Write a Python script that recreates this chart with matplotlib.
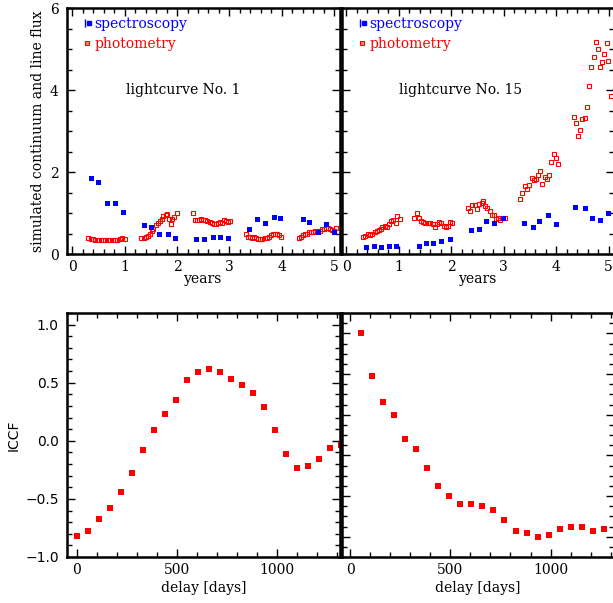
import numpy as np
import matplotlib
matplotlib.use('Agg')
import matplotlib.pyplot as plt
from matplotlib.ticker import MultipleLocator
from matplotlib.lines import Line2D
from matplotlib.legend_handler import HandlerTuple

plt.rcParams['font.family'] = ['DejaVu Serif']
plt.rcParams['font.size'] = 10
plt.rcParams['mathtext.default'] = 'regular'

# lightcurve No. 1
spec1_t = [0.36, 0.50, 0.67, 0.82, 0.97, 1.37, 1.50, 1.66, 1.83, 1.97, 2.36, 2.51, 2.68, 2.82, 2.98,
           3.38, 3.53, 3.68, 3.85, 3.97, 4.41, 4.52, 4.69, 4.85, 5.00]
spec1_f = [1.86, 1.76, 1.25, 1.25, 1.03, 0.71, 0.66, 0.49, 0.49, 0.40, 0.37, 0.37, 0.42, 0.42, 0.40,
           0.61, 0.86, 0.76, 0.91, 0.89, 0.86, 0.79, 0.54, 0.74, 0.54]
phot1_t = [0.30, 0.35, 0.40, 0.44, 0.49, 0.54, 0.58, 0.63, 0.68, 0.72, 0.77, 0.82, 0.86, 0.91, 0.95, 1.00,
           1.32, 1.36, 1.40, 1.44, 1.48, 1.52, 1.55, 1.59, 1.63, 1.67, 1.71, 1.74, 1.78, 1.81, 1.85, 1.88, 1.91, 1.95, 1.99,
           2.30, 2.34, 2.38, 2.42, 2.46, 2.50, 2.54, 2.58, 2.62, 2.66, 2.70, 2.74, 2.78, 2.82, 2.86, 2.90, 2.94, 2.98, 3.01,
           3.31, 3.35, 3.39, 3.43, 3.47, 3.51, 3.55, 3.59, 3.63, 3.67, 3.71, 3.75, 3.79, 3.83, 3.87, 3.91, 3.95, 3.99,
           4.32, 4.36, 4.40, 4.44, 4.48, 4.52, 4.56, 4.60, 4.64, 4.68, 4.72, 4.76, 4.80, 4.84, 4.88, 4.92, 4.96, 5.00, 5.04]
phot1_f = [0.38, 0.37, 0.36, 0.35, 0.34, 0.34, 0.35, 0.34, 0.35, 0.35, 0.33, 0.33, 0.34, 0.36, 0.40, 0.37,
           0.38, 0.40, 0.42, 0.44, 0.50, 0.56, 0.62, 0.70, 0.76, 0.80, 0.86, 0.92, 0.96, 0.97, 0.86, 0.72, 0.86, 0.90, 0.99,
           0.99, 0.84, 0.82, 0.83, 0.86, 0.84, 0.83, 0.80, 0.77, 0.75, 0.74, 0.73, 0.76, 0.78, 0.76, 0.83, 0.80, 0.77, 0.80,
           0.48, 0.42, 0.42, 0.40, 0.42, 0.38, 0.37, 0.36, 0.37, 0.39, 0.40, 0.42, 0.46, 0.49, 0.48, 0.48, 0.46, 0.41,
           0.38, 0.42, 0.46, 0.48, 0.50, 0.53, 0.54, 0.54, 0.55, 0.56, 0.57, 0.60, 0.62, 0.63, 0.64, 0.60, 0.58, 0.55, 0.63]

# lightcurve No. 15
spec15_t = [0.38, 0.52, 0.67, 0.82, 0.95, 1.38, 1.52, 1.65, 1.81, 1.97, 2.37, 2.52, 2.66, 2.82, 2.98,
            3.38, 3.55, 3.68, 3.85, 3.99, 4.36, 4.54, 4.69, 4.83, 4.99]
spec15_f = [0.18, 0.19, 0.18, 0.19, 0.19, 0.19, 0.28, 0.28, 0.32, 0.36, 0.58, 0.62, 0.80, 0.76, 0.89,
            0.76, 0.67, 0.81, 0.96, 0.74, 1.14, 1.11, 0.89, 0.84, 0.99]
phot15_t = [0.32, 0.36, 0.41, 0.45, 0.49, 0.54, 0.58, 0.62, 0.66, 0.69, 0.74, 0.78, 0.82, 0.85, 0.90, 0.94, 0.97, 1.02,
            1.30, 1.34, 1.38, 1.43, 1.47, 1.51, 1.56, 1.60, 1.65, 1.69, 1.73, 1.77, 1.81, 1.86, 1.90, 1.94, 1.98, 2.02,
            2.32, 2.35, 2.40, 2.45, 2.49, 2.53, 2.58, 2.61, 2.65, 2.69, 2.73, 2.77, 2.81, 2.86, 2.89, 2.93, 2.97, 3.03,
            3.31, 3.35, 3.40, 3.44, 3.48, 3.53, 3.57, 3.61, 3.65, 3.69, 3.73, 3.78, 3.82, 3.86, 3.90, 3.95, 3.99, 4.04,
            4.33, 4.37, 4.41, 4.45, 4.50, 4.54, 4.59, 4.62, 4.67, 4.71, 4.75, 4.79, 4.83, 4.87, 4.91, 4.96, 4.99, 5.04]
phot15_f = [0.42, 0.45, 0.48, 0.46, 0.50, 0.54, 0.55, 0.59, 0.62, 0.65, 0.68, 0.67, 0.73, 0.81, 0.83, 0.75, 0.93, 0.86,
            0.89, 0.99, 0.87, 0.80, 0.78, 0.76, 0.75, 0.76, 0.73, 0.67, 0.72, 0.78, 0.76, 0.68, 0.67, 0.68, 0.79, 0.75,
            1.11, 1.04, 1.20, 1.20, 1.10, 1.22, 1.24, 1.29, 1.17, 1.11, 1.04, 0.95, 0.95, 0.86, 0.87, 0.84, 0.89, 0.89,
            1.34, 1.50, 1.66, 1.59, 1.69, 1.86, 1.80, 1.83, 1.92, 2.03, 1.71, 1.89, 1.82, 1.93, 2.24, 2.44, 2.33, 2.19,
            3.33, 3.19, 2.88, 3.02, 3.29, 3.31, 3.59, 4.10, 4.55, 4.80, 5.16, 4.99, 4.57, 4.68, 4.88, 5.15, 4.71, 3.85]

# ICCF
delay1 = [0, 55, 110, 165, 220, 275, 330, 385, 440, 495, 550, 605, 660, 715, 770, 825, 880, 935, 990,
          1045, 1100, 1155, 1210, 1265, 1320]
iccf1 = [-0.82, -0.78, -0.67, -0.58, -0.44, -0.28, -0.08, 0.09, 0.23, 0.35, 0.52, 0.59, 0.62, 0.59, 0.53,
         0.48, 0.41, 0.29, 0.09, -0.11, -0.23, -0.22, -0.16, -0.06, -0.04]
delay15 = [55, 110, 165, 220, 275, 330, 385, 440, 495, 550, 605, 660, 715, 770, 825, 880, 935, 990,
           1045, 1100, 1155, 1210, 1265]
iccf15 = [1.00, 0.79, 0.66, 0.60, 0.48, 0.43, 0.34, 0.25, 0.20, 0.16, 0.16, 0.15, 0.13, 0.08, 0.03, 0.02,
          0.00, 0.01, 0.04, 0.05, 0.05, 0.03, 0.04]

W, H = 613, 603
fig = plt.figure(figsize=(W / 100, H / 100), dpi=100)


def box(l, r, t, b):
    return [l / W, (H - b) / H, (r - l) / W, (b - t) / H]


def style(ax, xmaj, xmin, ymaj, ymin, ylabels=True):
    ax.xaxis.set_major_locator(MultipleLocator(xmaj))
    ax.xaxis.set_minor_locator(MultipleLocator(xmin))
    ax.yaxis.set_major_locator(MultipleLocator(ymaj))
    ax.yaxis.set_minor_locator(MultipleLocator(ymin))
    ax.tick_params(which='both', direction='in', top=True, right=True, width=1)
    ax.tick_params(which='major', length=6, pad=4)
    ax.tick_params(which='minor', length=3.5)
    ax.tick_params(axis='y', pad=6)
    if not ylabels:
        ax.tick_params(axis='y', labelleft=False)
    for s in ax.spines.values():
        s.set_linewidth(1.8)


def legend(ax):
    h_spec = (Line2D([], [], color='blue', marker='|', ms=6, mew=1, ls='none'),
              Line2D([], [], color='blue', marker='s', ms=3, ls='none'))
    h_phot = Line2D([], [], color='red', marker='s', ms=3.5, mfc='#ff8080', mew=0.8, ls='none')
    leg = ax.legend([h_spec, h_phot], ['spectroscopy', 'photometry'],
                    handler_map={tuple: HandlerTuple(ndivide=None, pad=0)},
                    loc='upper left', bbox_to_anchor=(0.06, 0.965), frameon=False,
                    handlelength=0.5, handletextpad=0.3, borderpad=0, borderaxespad=0,
                    labelspacing=0.45, labelcolor=['blue', 'red'])
    return leg


# top left
ax1 = fig.add_axes(box(67, 340, 8, 254))
ax1.plot(phot1_t, phot1_f, 's', ms=3.4, mfc='none', mec='red', mew=0.8, clip_on=False)
ax1.plot(spec1_t, spec1_f, 's', ms=3.6, color='blue', mew=0)
ax1.set_xlim(-0.1, 5.11)
ax1.set_ylim(0, 6)
style(ax1, 1, 0.2, 2, 0.5)
ax1.set_xlabel('years', labelpad=-1)
ax1.set_ylabel('simulated continuum and line flux')
ax1.yaxis.set_label_coords(-0.08, 0.5)
ax1.text(0.215, 0.665, 'lightcurve No. 1', transform=ax1.transAxes, va='center')
legend(ax1)

# top right
ax2 = fig.add_axes(box(342, 614, 8, 254))
ax2.plot(phot15_t, phot15_f, 's', ms=3.4, mfc='none', mec='red', mew=0.8)
ax2.plot(spec15_t, spec15_f, 's', ms=3.6, color='blue', mew=0)
ax2.set_xlim(-0.08, 5.1)
ax2.set_ylim(0, 6)
style(ax2, 1, 0.2, 2, 0.5, ylabels=False)
ax2.set_xlabel('years', labelpad=-1)
ax2.text(0.21, 0.665, 'lightcurve No. 15', transform=ax2.transAxes, va='center')
legend(ax2)

# bottom left
ax3 = fig.add_axes(box(67, 340, 313, 557))
ax3.plot(delay1, iccf1, 's', ms=4, color='red', mew=0, clip_on=False)
ax3.set_xlim(-48, 1316)
ax3.set_ylim(-1, 1.1)
style(ax3, 500, 100, 0.5, 0.1)
for lab in ax3.get_yticklabels():
    lab.set_family('DejaVu Sans')
ax3.set_xlabel('delay [days]', labelpad=3)
ax3.set_ylabel('ICCF', family='DejaVu Sans')
ax3.yaxis.set_label_coords(-0.17, 0.5)

# bottom right
ax4 = fig.add_axes(box(342, 614, 313, 557))
ax4.plot(delay15, iccf15, 's', ms=4, color='red', mew=0)
ax4.set_xlim(-40, 1316)
ax4.set_ylim(-0.1, 1.1)
style(ax4, 500, 100, 0.2, 0.05, ylabels=False)
ax4.set_xlabel('delay [days]', labelpad=3)

fig.savefig('out.png', dpi=100)
